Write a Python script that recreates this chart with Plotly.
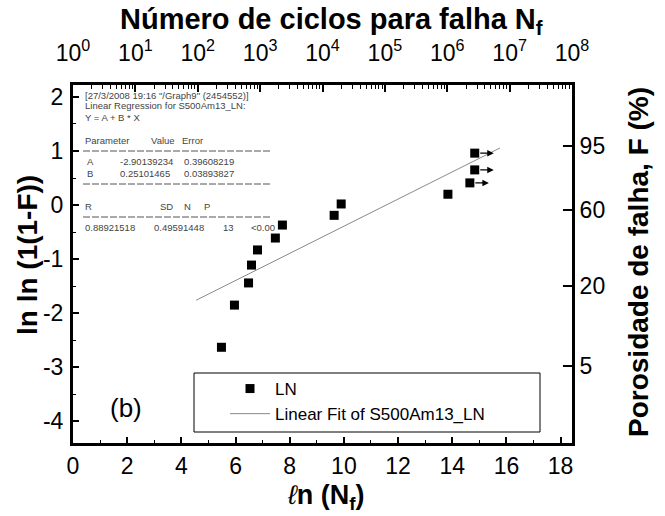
import numpy as np
import plotly.graph_objects as go

# ---- data ----
ln_nf = [5.48, 5.96, 6.48, 6.59, 6.81, 7.47, 7.73, 9.64, 9.90, 13.84, 14.65, 14.83, 14.83]
lnln_f = [-2.63, -1.85, -1.44, -1.11, -0.83, -0.61, -0.37, -0.19, 0.02, 0.20, 0.41, 0.65, 0.96]
runout = [0, 0, 0, 0, 0, 0, 0, 0, 0, 0, 1, 1, 1]

fit_a = -2.90139234
fit_b = 0.25101465

f_percent_ticks = [5, 20, 60, 95]
top_decades = [0, 1, 2, 3, 4, 5, 6, 7, 8]

reg_lines = ['[27/3/2008 19:16 "/Graph9" (2454552)]',
             'Linear Regression for S500Am13_LN:',
             'Y = A + B * X']
param_header = ['Parameter', 'Value', 'Error']
param_rows = [['A', '-2.90139234', '0.39608219'],
              ['B', '0.25101465', '0.03893827']]
stat_header = ['R', 'SD', 'N', 'P']
stat_row = ['0.88921518', '0.49591448', '13', '<0.00']

# ---- geometry helpers ----
W, H = 665, 516
ML, MR, MT, MB = 73, 93, 85, 73
PW, PH = W - ML - MR, H - MT - MB


def px(xp):
    return (xp - ML) / PW


def py(yp):
    return (H - MB - yp) / PH


FONT = "Liberation Sans, Arial, sans-serif"
XMAX = np.log(1e8)
YR = [-4.4, 2.22]

span = max(ln_nf) - min(ln_nf)
fit_x = [min(ln_nf) - 0.1 * span, max(ln_nf) + 0.1 * span]
fit_y = [fit_a + fit_b * v for v in fit_x]

fig = go.Figure()
fig.add_trace(go.Scatter(x=ln_nf, y=lnln_f, mode='markers', name='LN',
                         marker=dict(symbol='square', size=9, color='black')))
fig.add_trace(go.Scatter(x=fit_x, y=fit_y, mode='lines', name='Linear Fit of S500Am13_LN',
                         line=dict(color='#8a8a8a', width=1)))
fig.add_trace(go.Scatter(x=[None], y=[None], xaxis='x2', yaxis='y2', showlegend=False,
                         hoverinfo='skip'))

# right axis (F %) positions
f_pos = [np.log(-np.log(1 - f / 100.0)) for f in f_percent_ticks]
# top axis (log cycles) positions
top_pos = [k * np.log(10) for k in top_decades]
top_txt = ['10<sup>%d</sup>' % k for k in top_decades]
top_minor = [np.log(m * 10 ** k) for k in top_decades[:-1] for m in range(2, 10)]

axis_common = dict(showline=True, linecolor='black', linewidth=3, showgrid=False,
                   zeroline=False, ticks='inside', tickcolor='black',
                   tickfont=dict(family=FONT, size=23, color='black'))

fig.update_layout(
    width=W, height=H,
    margin=dict(l=ML, r=MR, t=MT, b=MB, pad=0),
    paper_bgcolor='white', plot_bgcolor='white',
    font=dict(family=FONT, color='black'),
    xaxis=dict(range=[0, XMAX], tickvals=list(range(0, 19, 2)), ticklen=6, tickwidth=1.5,
               minor=dict(tickvals=list(range(1, 19, 2)), ticks='inside', ticklen=3,
                          tickcolor='black', tickwidth=1.2),
               **axis_common),
    yaxis=dict(range=YR, tickvals=[-4, -3, -2, -1, 0, 1, 2], ticktext=['-4', '-3', '-2', '-1', '0', '1', '2'],
               ticklen=6, tickwidth=1.5, ticklabelstandoff=2,
               minor=dict(tickvals=[-3.5, -2.5, -1.5, -0.5, 0.5, 1.5], ticks='inside', ticklen=3,
                          tickcolor='black', tickwidth=1.2),
               **axis_common),
    xaxis2=dict(overlaying='x', side='top', range=[0, XMAX], tickvals=top_pos, ticktext=top_txt,
                ticklen=7, tickwidth=1.5, ticklabelstandoff=12,
                minor=dict(tickvals=top_minor, ticks='inside', ticklen=4, tickcolor='black',
                           tickwidth=1),
                **axis_common),
    yaxis2=dict(overlaying='y', side='right', range=YR, tickvals=f_pos,
                ticktext=[str(f) for f in f_percent_ticks], ticklen=9, tickwidth=1.5,
                **axis_common),
    showlegend=True,
    legend=dict(x=px(225), y=py(371), xanchor='left', yanchor='top',
                bgcolor='rgba(0,0,0,0)', borderwidth=0, itemwidth=40,
                font=dict(family=FONT, size=17, color='black'), tracegroupgap=0),
)

ann = []
# axis titles
ann.append(dict(text='<b>Número de ciclos para falha N<sub>f</sub></b>', x=px(331), y=py(21),
                xref='paper', yref='paper', showarrow=False, xanchor='center', yanchor='middle',
                font=dict(family=FONT, size=29, color='black')))
ann.append(dict(text='<i>ℓ</i><b>n (N<sub>f</sub>)</b>', x=px(326), y=py(497),
                xref='paper', yref='paper', showarrow=False, xanchor='center', yanchor='middle',
                font=dict(family=FONT, size=27, color='black')))
ann.append(dict(text='<b>ln ln (1(1-F))</b>', x=px(27), y=py(255), textangle=-90,
                xref='paper', yref='paper', showarrow=False, xanchor='center', yanchor='middle',
                font=dict(family=FONT, size=28, color='black')))
ann.append(dict(text='<b>Porosidade de falha, F (%)</b>', x=px(638), y=py(262), textangle=-90,
                xref='paper', yref='paper', showarrow=False, xanchor='center', yanchor='middle',
                font=dict(family=FONT, size=28, color='black')))
ann.append(dict(text='(b)', x=px(126), y=py(408), xref='paper', yref='paper', showarrow=False,
                xanchor='center', yanchor='middle', font=dict(family=FONT, size=26, color='black')))

# regression results text
small = dict(family=FONT, size=9.5, color='#444444')


def txt(s, xp, yp):
    ann.append(dict(text=s, x=px(xp), y=py(yp), xref='paper', yref='paper', showarrow=False,
                    xanchor='left', yanchor='middle', font=small))


for i, s in enumerate(reg_lines):
    txt(s, 83, 95 + 11 * i)
for s, xp in zip(param_header, [83, 149, 180]):
    txt(s, xp, 140)
for r, row in enumerate(param_rows):
    for s, xp in zip(row, [85, 118, 182]):
        txt(s, xp, 161 + 12.5 * r)
for s, xp in zip(stat_header, [83, 158, 182, 202]):
    txt(s, xp, 206)
for s, xp in zip(stat_row, [83, 152, 221, 249]):
    txt(s, xp, 227)

# run-out arrows
for xv, yv, ro in zip(ln_nf, lnln_f, runout):
    if ro:
        ann.append(dict(x=xv, y=yv, xref='x', yref='y', text=' ', showarrow=True,
                        ax=-15, ay=0, xshift=19, arrowhead=2, arrowsize=1, arrowwidth=1.3,
                        arrowcolor='black', font=dict(size=1)))

shapes = []
for yp in [151, 184, 217]:
    shapes.append(dict(type='line', xref='paper', yref='paper', x0=px(83), x1=px(272),
                       y0=py(yp), y1=py(yp), line=dict(color='#555555', width=1, dash='7px,2px')))
# legend frame
shapes.append(dict(type='rect', xref='paper', yref='paper', x0=px(194), x1=px(540),
                   y0=py(432), y1=py(373), line=dict(color='black', width=1)))

fig.update_layout(annotations=ann, shapes=shapes)
fig.write_html("out.html")
